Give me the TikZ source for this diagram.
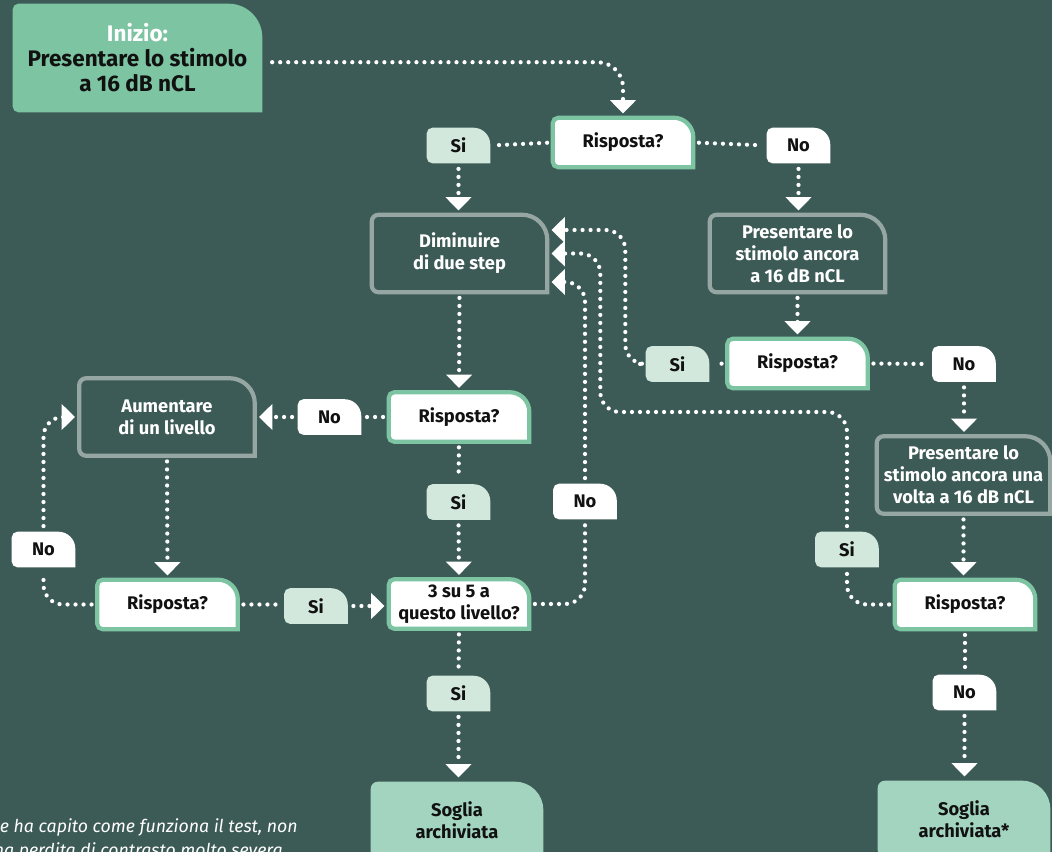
\documentclass[tikz,border=0pt]{standalone}
\usepackage{fontspec}
\setmainfont{Fira Sans}
\usetikzlibrary{positioning,calc,arrows.meta,backgrounds}
\definecolor{bgteal}{RGB}{61,91,86}
\definecolor{startgreen}{RGB}{125,196,162}
\definecolor{endgreen}{RGB}{163,212,191}
\definecolor{sipale}{RGB}{211,232,221}
\definecolor{framegrey}{RGB}{150,166,163}
\definecolor{inkblack}{RGB}{17,17,17}

% box outline: sharp bottom right, big round top right
\newcommand{\leafbox}[4]{% style, node, big radius, small radius
  \path[#1] (#2.south east) -- ([xshift=#4]#2.south west)
    arc[start angle=270,end angle=180,radius=#4] -- ([yshift=-#4]#2.north west)
    arc[start angle=180,end angle=90,radius=#4] -- ([xshift=-#3]#2.north east)
    arc[start angle=90,end angle=0,radius=#3] -- cycle;}

\tikzset{
  box/.style={inner sep=0pt, align=center, font=\bfseries\fontsize{13}{15.5}\selectfont},
  resp/.style={box, minimum width=3.5cm, minimum height=1.225cm, text=inkblack},
  proc/.style={box, minimum width=4.375cm, minimum height=1.925cm, text=white},
  tag/.style={box, minimum width=1.575cm, minimum height=0.875cm, text=inkblack},
  goal/.style={box, minimum width=4.3cm, minimum height=1.9cm, text=inkblack},
  note/.style={anchor=east, inner sep=0pt, text=white, font=\itshape\fontsize{12.6}{15}\selectfont},
  flow/.style={white, line width=3pt, line cap=round, dash pattern=on 0pt off 5.7pt,
    shorten <=4pt, shorten >=4pt, rounded corners=14pt},
  arr/.style={flow, -{Triangle[width=18pt,length=9.5pt]}, shorten >=3pt},
}

\begin{document}
\begin{tikzpicture}[x=0.025cm, y=-0.025cm]
\useasboundingbox (0,0) rectangle (1052,852);

% Start
\node[box, minimum width=6.225cm, minimum height=2.7cm, text=inkblack,
  font=\bfseries\fontsize{16}{17.8}\selectfont] (start) at (137.5,58)
  {\textcolor{white}{Inizio:}\\Presentare lo stimolo\\a 16 dB nCL};

% Questions
\node[resp] (r1) at (623,142.5) {Risposta?};
\node[resp] (r2) at (797.5,363.5) {Risposta?};
\node[resp] (r3) at (459,417) {Risposta?};
\node[resp] (r4) at (965,604.5) {Risposta?};
\node[resp] (r5) at (167.5,604.5) {Risposta?};
\node[resp] (q) at (459,604) {3 su 5 a\\questo livello?};

% Actions
\node[proc] (dim) at (459.5,253.5) {Diminuire\\di due step};
\node[proc] (p2) at (797.5,253.5) {Presentare lo\\stimolo ancora\\a 16 dB nCL};
\node[proc] (aum) at (167,417) {Aumentare\\di un livello};
\node[proc, minimum width=4.325cm] (p4) at (963.5,475) {Presentare lo\\stimolo ancora una\\volta a 16 dB nCL};

% Answers
\node[tag] (si1) at (458.5,145.5) {Si};
\node[tag] (no1) at (798.5,145.5) {No};
\node[tag] (si2) at (677.5,364) {Si};
\node[tag] (no3) at (964,364) {No};
\node[tag] (no6) at (329.5,417) {No};
\node[tag] (no5) at (585,501.5) {No};
\node[tag] (si9) at (458.5,502) {Si};
\node[tag] (si4) at (847,549.5) {Si};
\node[tag] (no7) at (43.5,549.5) {No};
\node[tag] (si8) at (316,606) {Si};
\node[tag] (si10) at (458.5,693.5) {Si};
\node[tag] (no11) at (964.5,692.5) {No};

% Ends
\node[goal] (end1) at (457,820) {Soglia\\archiviata};
\node[goal] (end2) at (964,819) {Soglia\\archiviata*};

% Footnote
\node[note] (note1) at (298,827) {e ha capito come funziona il test, non};
\node[note] (note2) at (283,851) {na perdita di contrasto molto severa};

% Connectors
\draw[arr, rounded corners=18pt, shorten <=7pt] ([yshift=-3pt]start.east) -| (r1.north);
\draw[flow] (r1.west) -- (si1.east);
\draw[flow] (r1.east) -- (no1.west);
\draw[arr] (si1.south) -- (si1.south |- dim.north);
\draw[arr] (no1.south) -- (no1.south |- p2.north);
\draw[arr] (p2.south) -- (r2.north);
\draw[flow] (r2.west) -- (si2.east);
\draw[flow] (r2.east) -- (no3.west);
\draw[arr] (no3.south) -- (no3.south |- p4.north);
\draw[arr] (p4.south) -- (p4.south |- r4.north);
\draw[flow] (r4.south) -- (r4.south |- no11.north);
\draw[arr] (no11.south) -- (no11.south |- end2.north);

% Loops back to Diminuire
\coordinate (d1) at ($(dim.east)+(0,-23.5)$);
\coordinate (d3) at ($(dim.east)+(0,28.5)$);
\draw[arr] (si2.west) -| ($(d1)+(78,0)$) -- (d1);
\draw[flow] (r4.west) -| (si4.south);
\draw[arr] (si4.north) |- ($(dim.east)+(53,158.5)$) |- (dim.east);
\draw[flow] (q.east) -| (no5.south);
\draw[arr] (no5.north) |- (d3);

% Middle column
\draw[arr] (dim.south) -- (r3.north);
\draw[flow] (r3.west) -- (no6.east);
\draw[arr] (no6.west) -- (aum.east);
\draw[flow] (r3.south) -- (si9.north);
\draw[arr] (si9.south) -- (q.north);
\draw[flow] (q.south) -- (si10.north);
\draw[arr] (si10.south) -- (si10.south |- end1.north);

% Left loop
\draw[arr] (aum.south) -- (r5.north);
\draw[flow] (r5.west) -| (no7.south);
\draw[arr] (no7.north) |- (aum.west);
\draw[flow] (r5.east) -- (r5.east -| si8.west);
\draw[arr] (si8.east) -- (si8.east -| q.west);

% Shapes behind the text
\begin{scope}[on background layer]
  \fill[bgteal] (0,0) rectangle (1052,852);
  \leafbox{fill=startgreen}{start}{24pt}{4pt}
  \foreach \n in {end1,end2} {\leafbox{fill=endgreen}{\n}{20pt}{5pt}}
  \foreach \n in {r1,r2,r3,r4,r5,q} {\leafbox{fill=white, draw=startgreen, line width=3pt}{\n}{14pt}{4pt}}
  \foreach \n in {dim,p2,aum,p4} {\leafbox{draw=framegrey, line width=3pt}{\n}{18pt}{5pt}}
  \foreach \n in {si1,si2,si9,si4,si8,si10} {\leafbox{fill=sipale}{\n}{12pt}{4pt}}
  \foreach \n in {no1,no3,no6,no5,no7,no11} {\leafbox{fill=white}{\n}{12pt}{4pt}}
\end{scope}
\end{tikzpicture}
\end{document}
